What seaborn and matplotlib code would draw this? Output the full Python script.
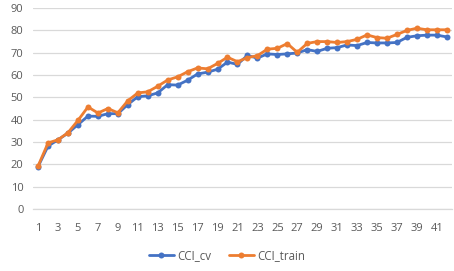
import pandas as pd
import matplotlib
matplotlib.use("Agg")
import matplotlib.pyplot as plt
import seaborn as sns

epochs = list(range(1, 43))
cci_cv = [19.0, 28.2, 31.0, 34.0, 37.8, 41.6, 41.5, 42.7, 42.7, 46.8,
          50.3, 50.7, 52.0, 55.7, 55.5, 57.7, 60.5, 61.3, 62.6, 65.8,
          64.8, 68.8, 67.6, 69.5, 69.2, 69.5, 69.9, 71.4, 70.6, 72.0,
          72.3, 73.5, 73.2, 74.6, 74.4, 74.4, 74.6, 76.9, 77.6, 77.9,
          77.9, 77.1]
cci_train = [19.3, 29.6, 31.0, 34.2, 39.7, 45.7, 43.0, 45.0, 43.1, 48.5,
             52.0, 52.5, 55.0, 57.8, 59.2, 61.5, 63.2, 62.8, 65.2, 68.0,
             66.0, 67.8, 68.7, 71.6, 72.0, 74.1, 70.2, 74.2, 75.0, 75.0,
             74.6, 75.0, 76.0, 78.0, 76.8, 76.5, 78.2, 80.0, 81.0, 80.3,
             80.3, 80.3]
series_names = ['CCI_cv', 'CCI_train']
colors = ['#4472C4', '#ED7D31']

df = pd.concat([
    pd.DataFrame({'epoch': epochs, 'value': cci_cv, 'series': series_names[0]}),
    pd.DataFrame({'epoch': epochs, 'value': cci_train, 'series': series_names[1]}),
])

sns.set_style('white')
plt.rcParams['font.family'] = ['Open Sans', 'DejaVu Sans']

fig = plt.figure(figsize=(4.54, 2.71), dpi=100)
ax = fig.add_axes([0.073, 0.229, 0.922, 0.741])

sns.lineplot(data=df, x='epoch', y='value', hue='series',
             palette=dict(zip(series_names, colors)),
             marker='o', markersize=4.3, markeredgewidth=0,
             linewidth=2.0, ax=ax, legend=False)

ax.set_xlim(0.5, 42.5)
ax.set_ylim(0, 90)
ax.set_yticks(range(0, 91, 10))
ax.set_xticks(range(1, 42, 2))
ax.grid(axis='y', color='#D9D9D9', linewidth=0.9)
ax.set_axisbelow(True)
for s in ['top', 'right', 'left']:
    ax.spines[s].set_visible(False)
ax.spines['bottom'].set_color('#D9D9D9')
ax.spines['bottom'].set_linewidth(0.9)
ax.tick_params(axis='both', length=0, labelsize=8, colors='#595959')
ax.tick_params(axis='x', pad=10)
ax.tick_params(axis='y', pad=7)
ax.set_xlabel('')
ax.set_ylabel('')

handles = [plt.Line2D([], [], color=c, marker='o', markersize=4.3,
                      markeredgewidth=0, linewidth=2.0) for c in colors]
fig.legend(handles, series_names, loc='center', bbox_to_anchor=(0.5, 0.058),
           ncol=2, frameon=False, fontsize=8.3, labelcolor='#595959',
           handlelength=2.2, columnspacing=1.5, handletextpad=0.3)

fig.savefig('out.png', dpi=100)
